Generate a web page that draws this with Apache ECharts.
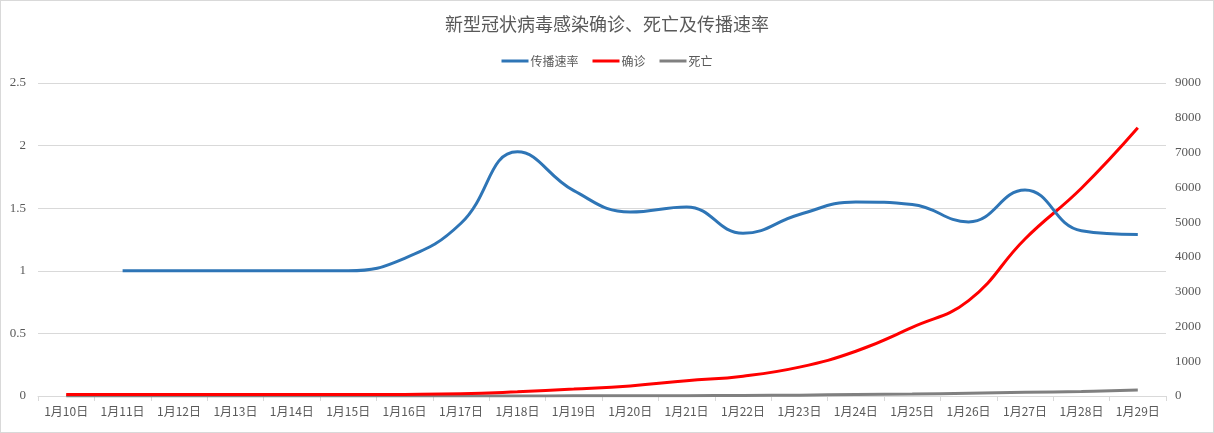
<!DOCTYPE html>
<html>
<head>
<meta charset="utf-8">
<script src="https://cdn.jsdelivr.net/npm/echarts@6/dist/echarts.min.js"></script>
<style>
html,body{margin:0;padding:0;background:#fff;}
#c{width:1214px;height:433px;box-sizing:border-box;border:1px solid #d9d9d9;}
</style>
</head>
<body>
<div id="c"></div>
<script>
const categories = ['1月10日','1月11日','1月12日','1月13日','1月14日','1月15日','1月16日','1月17日','1月18日','1月19日','1月20日','1月21日','1月22日','1月23日','1月24日','1月25日','1月26日','1月27日','1月28日','1月29日'];
const spreadRate = [null,1.0,1.0,1.0,1.0,1.0,1.10,1.38,1.95,1.64,1.47,1.51,1.30,1.45,1.55,1.53,1.39,1.645,1.32,1.29];
const confirmed = [41,41,41,41,41,41,45,62,121,198,291,440,571,830,1287,1975,2744,4515,5974,7711];
const deaths = [1,1,1,1,1,2,2,2,3,4,6,9,17,25,41,56,80,106,132,170];
const leftTicks = {min:0,max:2.5,interval:0.5};
const rightTicks = {min:0,max:9000,interval:1000};

const font = '"Noto Sans CJK SC", "Noto Sans", sans-serif';
const chart = echarts.init(document.getElementById('c'), null, {renderer:'canvas'});
chart.setOption({
  animation:false,
  backgroundColor:'#fff',
  title:{
    text:'新型冠状病毒感染确诊、死亡及传播速率',
    left:'center', top:9,
    textStyle:{fontFamily:font,fontSize:18,fontWeight:'normal',color:'#595959'}
  },
  legend:{
    top:49, left:'center',
    itemWidth:27, itemHeight:3, itemGap:14,
    icon:'rect',
    textStyle:{fontFamily:font,fontSize:12,color:'#595959',padding:[0,0,0,-3]},
    data:['传播速率','确诊','死亡']
  },
  grid:{left:37,right:47,top:82,bottom:36,containLabel:false},
  xAxis:{
    type:'category',
    data:categories,
    boundaryGap:true,
    axisLine:{lineStyle:{color:'#d9d9d9'}},
    axisTick:{show:true,length:5,lineStyle:{color:'#d9d9d9'}},
    axisLabel:{fontFamily:font,fontSize:12,color:'#595959',margin:9,interval:0}
  },
  yAxis:[
    {
      type:'value', min:leftTicks.min, max:leftTicks.max, interval:leftTicks.interval,
      axisLine:{show:false}, axisTick:{show:false},
      axisLabel:{fontFamily:'"Liberation Serif", serif',fontSize:13,color:'#595959',margin:12},
      splitLine:{lineStyle:{color:'#d9d9d9'}}
    },
    {
      type:'value', min:rightTicks.min, max:rightTicks.max, interval:rightTicks.interval,
      axisLine:{show:false}, axisTick:{show:false},
      axisLabel:{fontFamily:'"Liberation Serif", serif',fontSize:13,color:'#595959',margin:9,
        formatter:function(v){return String(v);}},
      splitLine:{show:false}
    }
  ],
  series:[
    {
      name:'传播速率', type:'line', yAxisIndex:0, data:spreadRate,
      smooth:0.45, symbol:'none', connectNulls:false,
      lineStyle:{width:3,color:'#2E75B6'}, itemStyle:{color:'#2E75B6'}, z:3
    },
    {
      name:'确诊', type:'line', yAxisIndex:1, data:confirmed,
      smooth:0.45, symbol:'none',
      lineStyle:{width:3,color:'#FF0000'}, itemStyle:{color:'#FF0000'}, z:2
    },
    {
      name:'死亡', type:'line', yAxisIndex:1, data:deaths,
      smooth:0.45, symbol:'none',
      lineStyle:{width:3,color:'#808080'}, itemStyle:{color:'#808080'}, z:1
    }
  ]
});
</script>
</body>
</html>
